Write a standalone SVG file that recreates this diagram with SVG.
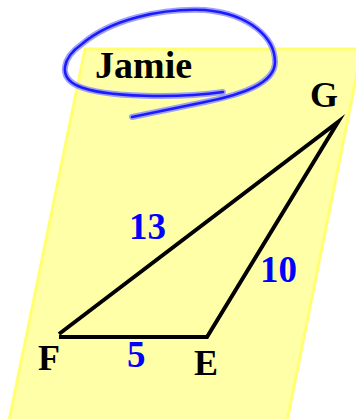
<svg xmlns="http://www.w3.org/2000/svg" width="356" height="419" viewBox="0 0 356 419">
<style>
text{font-family:'Liberation Serif','Times New Roman',serif;font-weight:bold;font-size:36px}
.lbl{fill:#000}
.num{fill:#0000ff;font-size:37px}
.big{font-size:38px}
</style>
<rect width="356" height="419" fill="#ffffff"/>
<g id="paper">
<polygon points="85,49 362,49 287,421 9,421" fill="#ffffa8" stroke="#ffff70" stroke-width="3"/>
</g>
<g id="name">
<text class="lbl big" x="95" y="78">Jamie</text>
</g>
<g id="scribble" fill="none" stroke-linecap="round" stroke-linejoin="round">
<path d="M223,92 C180,98 105,98 78,86 C58,77 62,58 82,44 C110,20 160,8 205,10 C250,14 275,38 275,62 C275,84 240,95 205,102 L132,117" stroke="#8888ff" stroke-width="6" opacity="0.8"/>
<path d="M223,92 C180,98 105,98 78,86 C58,77 62,58 82,44 C110,20 160,8 205,10 C250,14 275,38 275,62 C275,84 240,95 205,102 L132,117" stroke="#1a1aff" stroke-width="2.5"/>
</g>
<g id="connectors">
<path d="M59,334 L338,122 L207,337 L59,337" fill="none" stroke="#000" stroke-width="4" stroke-linejoin="miter" stroke-miterlimit="10"/>
</g>
<g id="F"><text class="lbl" x="38" y="370">F</text></g>
<g id="E"><text class="lbl" x="194" y="375">E</text></g>
<g id="G"><text class="lbl" x="310" y="107">G</text></g>
<g id="side13"><text class="num" x="129" y="239">13</text></g>
<g id="side10"><text class="num" x="260" y="282">10</text></g>
<g id="side5"><text class="num" x="127" y="367">5</text></g>
</svg>
